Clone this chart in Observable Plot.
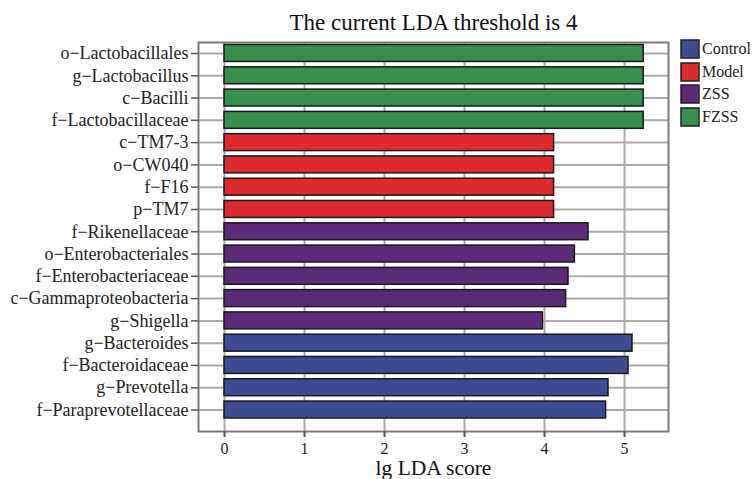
<!DOCTYPE html>
<html>
<head>
<meta charset="utf-8">
<script src="https://cdn.jsdelivr.net/npm/d3@7"></script>
<script src="https://cdn.jsdelivr.net/npm/@observablehq/plot@0.6"></script>
<style>
  html, body { margin: 0; padding: 0; background: #fff; }
  #wrap { position: relative; width: 753px; height: 479px; overflow: hidden; }
  #legend { position: absolute; left: 681px; top: 40px; }
  #legend .lg-swatches { font-family: "Liberation Serif", serif; font-size: 16px; color: #222; }
  #legend .lg-swatch { display: flex; align-items: center; margin: 0 0 4.5px 0; padding: 0; line-height: 18px; height: 18px; }
  #legend .lg-swatch svg { margin-right: 3px; overflow: visible; }
  #legend .lg-swatch svg rect { stroke: #222; stroke-width: 1.5; }
</style>
</head>
<body>
<div id="wrap"></div>
<script>
const features = [
  "o−Lactobacillales", "g−Lactobacillus", "c−Bacilli", "f−Lactobacillaceae",
  "c−TM7-3", "o−CW040", "f−F16", "p−TM7",
  "f−Rikenellaceae", "o−Enterobacteriales", "f−Enterobacteriaceae", "c−Gammaproteobacteria", "g−Shigella",
  "g−Bacteroides", "f−Bacteroidaceae", "g−Prevotella", "f−Paraprevotellaceae"
];
const scores = [
  5.24, 5.24, 5.24, 5.24,
  4.12, 4.12, 4.12, 4.12,
  4.55, 4.38, 4.30, 4.27, 3.98,
  5.10, 5.05, 4.80, 4.77
];
const groups = [
  "FZSS", "FZSS", "FZSS", "FZSS",
  "Model", "Model", "Model", "Model",
  "ZSS", "ZSS", "ZSS", "ZSS", "ZSS",
  "Control", "Control", "Control", "Control"
];
const groupNames = ["Control", "Model", "ZSS", "FZSS"];
const groupColors = ["#3c4b92", "#dc2a2f", "#5e2b7a", "#36904b"];
const xTicks = [0, 1, 2, 3, 4, 5];
const title = "The current LDA threshold is 4";
const xLabel = "lg LDA score";

const data = features.map((f, i) => ({feature: f, score: scores[i], group: groups[i]}));
const serif = "Liberation Serif, Times New Roman, serif";

const chart = Plot.plot({
  width: 753,
  height: 479,
  marginLeft: 198,
  marginRight: 85,
  marginTop: 42,
  marginBottom: 48,
  style: {fontFamily: serif, background: "#fff", color: "#222"},
  x: {domain: [-0.325, 5.55]},
  y: {domain: features, range: [41.85, 420.65], paddingInner: 0.24, paddingOuter: 0.12, round: false},
  color: {domain: groupNames, range: groupColors},
  marks: [
    Plot.gridX(xTicks, {stroke: "#aaa", strokeOpacity: 1, strokeWidth: 2}),
    Plot.gridY(features, {stroke: "#aaa", strokeOpacity: 1, strokeWidth: 2}),
    Plot.frame({stroke: "#7a7a7a", strokeWidth: 2}),
    Plot.barX(data, {x: "score", y: "feature", fill: "group", stroke: "#1a1a1a", strokeWidth: 1.5}),
    Plot.axisX(xTicks, {tickSize: 6, tickPadding: 5, fontSize: 16, stroke: "#555", strokeWidth: 2, label: null}),
    Plot.axisY(features, {tickSize: 7, tickPadding: 3, fontSize: 18, stroke: "#555", strokeWidth: 1.5, label: null, style: {letterSpacing: "0.5px"}}),
    Plot.text([title], {frameAnchor: "top", dy: -20, fontSize: 23, lineAnchor: "middle", fill: "#111", style: {letterSpacing: "0.5px"}}),
    Plot.text([xLabel], {frameAnchor: "bottom", dy: 37, fontSize: 21.5, lineAnchor: "middle", fill: "#111", style: {letterSpacing: "0.3px"}})
  ]
});

const wrap = document.getElementById("wrap");
wrap.appendChild(chart);

const leg = Plot.legend({
  color: {domain: groupNames, range: groupColors},
  legend: "swatches",
  swatchSize: 18,
  columns: 1,
  className: "lg"
});
const legDiv = document.createElement("div");
legDiv.id = "legend";
legDiv.appendChild(leg);
wrap.appendChild(legDiv);
</script>
</body>
</html>
